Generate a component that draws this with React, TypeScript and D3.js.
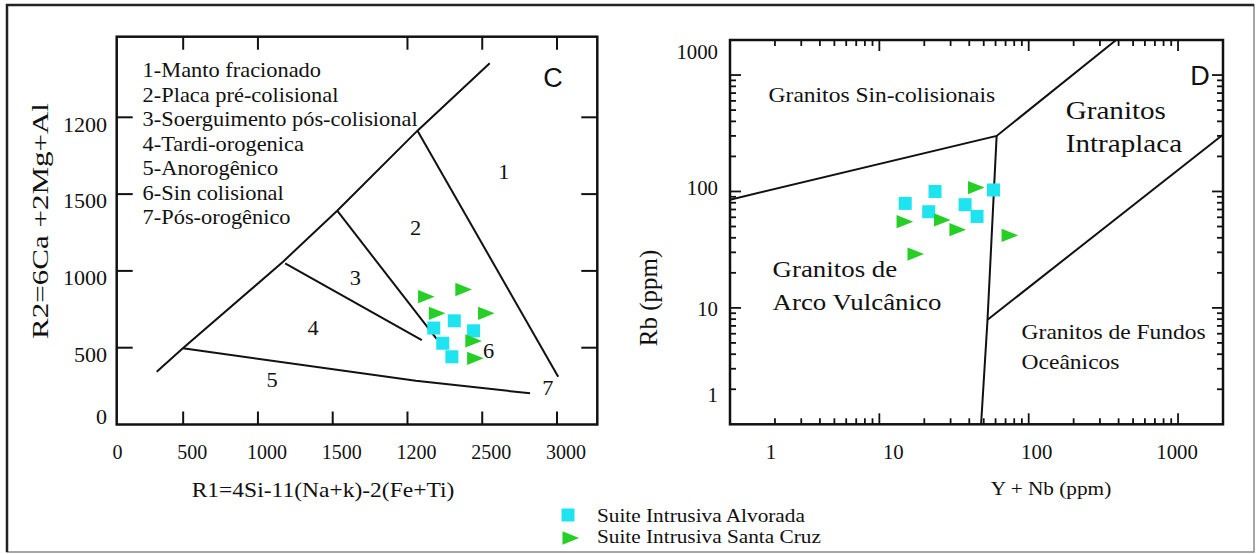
import React, { useEffect, useRef } from "react"
import * as d3 from "d3"

const W = 1258
const H = 554

// ---- painel C : R1-R2 ----
const r1Ticks = [0, 500, 1000, 1500, 2000, 2500, 3000]
const r1TickLabels = ["0", "500", "1000", "1500", "1200", "2500", "3000"]
const r1TopTicks = [500, 1000, 2000, 2500, 3000]
const r2Ticks = [0, 500, 1000, 1500, 2000]
const r2TickLabels = ["0", "500", "1000", "1500", "1200"]

const fieldNames = [
    "1-Manto fracionado",
    "2-Placa pré-colisional",
    "3-Soerguimento pós-colisional",
    "4-Tardi-orogenica",
    "5-Anorogênico",
    "6-Sin colisional",
    "7-Pós-orogênico",
]

// limites dos campos (R1, R2)
const r1r2Lines: [number, number][][] = [
    [[323, 344], [498, 496], [1168, 1060], [1530, 1392], [2067, 1913], [2550, 2352]],
    [[2067, 1913], [3008, 311]],
    [[1530, 1392], [2195, 557]],
    [[1182, 1049], [2096, 550]],
    [[498, 496], [2056, 285], [2820, 203]],
]
const fieldNumbers = ["1", "2", "3", "4", "5", "6", "7"]
const fieldNumR1 = [2645, 2054, 1651, 1369, 1094, 2542, 2939]
const fieldNumR2 = [1646, 1277, 952, 626, 290, 480, 236]

const alvR1 = [2313, 2442, 2236, 2297, 2176]
const alvR2 = [675, 610, 529, 441, 628]
const scR1 = [2108, 2357, 2180, 2509, 2424, 2436]
const scR2 = [832, 879, 724, 724, 544, 431]

// ---- painel D : Rb x Y+Nb ----
const logLabels = ["1", "10", "100", "1000"]
const logLabelValues = [1, 10, 100, 1000]
const pearceLines: [number, number][][] = [
    [[1, 85], [61, 300], [385, 2000]],
    [[61, 300], [53, 7.9], [48, 1]],
    [[53, 7.9], [1986, 306]],
]
const alvYNb = [14.9, 23.6, 21.4, 37.5, 45.1, 58.1]
const alvRb = [79, 100, 67, 77, 61, 103]
const scYNb = [14.2, 25.3, 32.1, 42.7, 71.7, 16.8]
const scRb = [55, 57, 47, 108, 42, 29]

const legendNames = ["Suite Intrusiva Alvorada", "Suite Intrusiva Santa Cruz"]

const CYAN = "#1ee4ef"
const GREEN = "#26cf26"
const SERIF = "'Liberation Serif', 'Times New Roman', serif"
const SANS = "'Liberation Sans', Arial, sans-serif"
const SX = 1.12 // a figura original esta esticada na horizontal

function addText(g, str, x, y, size, anchor = "start", sx = SX, family = SERIF) {
    return g
        .append("text")
        .attr("transform", `translate(${x},${y}) scale(${sx},1)`)
        .attr("text-anchor", anchor)
        .attr("dy", "0.35em")
        .attr("font-family", family)
        .attr("font-size", size)
        .attr("fill", "#111")
        .text(str)
}

function drawMarkers(g, xs, ys, xScale, yScale, kind) {
    xs.forEach((v, i) => {
        const px = xScale(v)
        const py = yScale(ys[i])
        if (kind === "square") {
            g.append("rect")
                .attr("x", px - 6.5)
                .attr("y", py - 6.5)
                .attr("width", 13)
                .attr("height", 13)
                .attr("fill", CYAN)
        } else {
            g.append("path")
                .attr("d", d3.symbol(d3.symbolTriangle, 120)())
                .attr("transform", `translate(${px},${py}) scale(1.15,0.8) rotate(90)`)
                .attr("fill", GREEN)
        }
    })
}

export default function App() {
    const ref = useRef(null)

    useEffect(() => {
        const svg = d3.select(ref.current)
        svg.selectAll("*").remove()
        svg.append("rect").attr("width", W).attr("height", H).attr("fill", "#fff")

        // moldura
        svg.append("rect")
            .attr("x", 7).attr("y", 5).attr("width", 1247).attr("height", 547)
            .attr("fill", "none").attr("stroke", "#888").attr("stroke-width", 1.5)
        svg.append("path")
            .attr("d", "M7,552 L7,5 L1254,5")
            .attr("fill", "none").attr("stroke", "#222").attr("stroke-width", 2.5)

        // ================= C =================
        const c = svg.append("g")
        const cb = { left: 116.7, right: 597.3, top: 36.7, bottom: 424.5 }
        const xC = d3.scaleLinear().domain([0, 3000]).range([108.4, 557])
        const yC = d3.scaleLinear().domain([0, 2000]).range([424.5, 117.3])

        const tick = (x1, y1, x2, y2) =>
            c.append("line").attr("x1", x1).attr("y1", y1).attr("x2", x2).attr("y2", y2)
                .attr("stroke", "#111").attr("stroke-width", 2)

        r1Ticks.filter(v => v > 0).forEach(v => tick(xC(v), cb.bottom, xC(v), cb.bottom - 13))
        r1TopTicks.forEach(v => tick(xC(v), cb.top, xC(v), cb.top + 13))
        r2Ticks.filter(v => v > 0).forEach(v => {
            tick(cb.left, yC(v), cb.left + 16, yC(v))
            tick(cb.right - 16, yC(v), cb.right, yC(v))
        })

        c.append("rect")
            .attr("x", cb.left).attr("y", cb.top)
            .attr("width", cb.right - cb.left).attr("height", cb.bottom - cb.top)
            .attr("fill", "none").attr("stroke", "#111").attr("stroke-width", 2.5)

        r1Ticks.forEach((v, i) => addText(c, r1TickLabels[i], xC(v) + 9, 451.7, 22, "middle", 0.91))
        r2Ticks.forEach((v, i) =>
            addText(c, r2TickLabels[i], 107, Math.min(yC(v) + 7, cb.bottom - 8), 21, "end", 1.05))

        const lineC = d3.line<[number, number]>().x(d => xC(d[0])).y(d => yC(d[1]))
        r1r2Lines.forEach(l =>
            c.append("path").attr("d", lineC(l)).attr("fill", "none")
                .attr("stroke", "#111").attr("stroke-width", 2))

        fieldNames.forEach((t, i) => addText(c, t, 142.6, 70 + i * 24.55, 20))
        fieldNumbers.forEach((t, i) =>
            addText(c, t, xC(fieldNumR1[i]), yC(fieldNumR2[i]), 20, "middle"))
        addText(c, "C", 553, 78, 27, "middle", 1, SANS)

        drawMarkers(c, alvR1, alvR2, xC, yC, "square")
        drawMarkers(c, scR1, scR2, xC, yC, "triangle")

        addText(c, "R1=4Si-11(Na+k)-2(Fe+Ti)", 323, 490, 21, "middle")
        c.append("text")
            .attr("transform", "translate(40,221) rotate(-90)")
            .attr("text-anchor", "middle").attr("dy", "0.35em")
            .attr("font-family", SERIF).attr("font-size", 24)
            .attr("textLength", 236).attr("lengthAdjust", "spacingAndGlyphs")
            .attr("fill", "#111")
            .text("R2=6Ca +2Mg+Al")

        // ================= D =================
        const d = svg.append("g")
        const db = { left: 730, right: 1223, top: 40, bottom: 424.3 }
        const xD = d3.scaleLog().domain([1, 2000]).range([db.left, db.right])
        const yD = d3.scaleLog().domain([1, 2000]).range([db.bottom, db.top])

        const tickD = (x1, y1, x2, y2) =>
            d.append("line").attr("x1", x1).attr("y1", y1).attr("x2", x2).attr("y2", y2)
                .attr("stroke", "#111").attr("stroke-width", 1.8)

        const isMajor = v => Math.abs(Math.log10(v) - Math.round(Math.log10(v))) < 1e-6
        xD.ticks().filter(v => v > 1 && v < 2000).forEach(v => {
            const len = isMajor(v) ? 11 : 6
            tickD(xD(v), db.bottom, xD(v), db.bottom - len)
            tickD(xD(v), db.top, xD(v), db.top + len)
        })
        yD.ticks().filter(v => v > 1 && v < 2000).forEach(v => {
            const len = isMajor(v) ? 11 : 6
            tickD(db.left, yD(v), db.left + len, yD(v))
            tickD(db.right - len, yD(v), db.right, yD(v))
        })

        d.append("rect")
            .attr("x", db.left).attr("y", db.top)
            .attr("width", db.right - db.left).attr("height", db.bottom - db.top)
            .attr("fill", "none").attr("stroke", "#111").attr("stroke-width", 2.5)

        const xLabelNudge = [41, 14, 8, -1]
        const yLabelNudge = [-29, 1.4, -3.2, -23.3]
        logLabelValues.forEach((v, i) => {
            addText(d, logLabels[i], xD(v) + xLabelNudge[i], 451.7, 20, "middle", 1.04)
            addText(d, logLabels[i], 718, yD(v) + yLabelNudge[i], 20, "end", 1.04)
        })

        const lineD = d3.line<[number, number]>().x(p => xD(p[0])).y(p => yD(p[1]))
        pearceLines.forEach(l =>
            d.append("path").attr("d", lineD(l)).attr("fill", "none")
                .attr("stroke", "#111").attr("stroke-width", 2))

        addText(d, "Granitos Sin-colisionais", 768.6, 95, 21)
        addText(d, "Granitos", 1065.7, 110, 26)
        addText(d, "Intraplaca", 1065.7, 143.3, 26)
        addText(d, "Granitos de", 772.6, 269, 24)
        addText(d, "Arco Vulcânico", 772.6, 301.7, 24)
        addText(d, "Granitos de Fundos", 1021.6, 331.7, 21)
        addText(d, "Oceânicos", 1021.6, 361.7, 21)
        addText(d, "D", 1200, 76, 27, "middle", 1, SANS)

        drawMarkers(d, alvYNb, alvRb, xD, yD, "square")
        drawMarkers(d, scYNb, scRb, xD, yD, "triangle")

        addText(d, "Y + Nb (ppm)", 1051, 488.3, 19, "middle")
        d.append("text")
            .attr("transform", "translate(648,298) rotate(-90)")
            .attr("text-anchor", "middle").attr("dy", "0.35em")
            .attr("font-family", SERIF).attr("font-size", 25)
            .attr("fill", "#111")
            .text("Rb (ppm)")

        // ================= legenda =================
        const lg = svg.append("g")
        lg.append("rect").attr("x", 561.5).attr("y", 508.5).attr("width", 13).attr("height", 13).attr("fill", CYAN)
        lg.append("path")
            .attr("d", d3.symbol(d3.symbolTriangle, 120)())
            .attr("transform", "translate(568,538) scale(1.15,0.8) rotate(90)")
            .attr("fill", GREEN)
        legendNames.forEach((t, i) => addText(lg, t, 597, 515 + i * 21.7, 19))
    }, [])

    return (
        <svg
            ref={ref}
            width={W}
            height={H}
            style={{ position: "absolute", left: 0, top: 0, display: "block" }}
        />
    )
}
